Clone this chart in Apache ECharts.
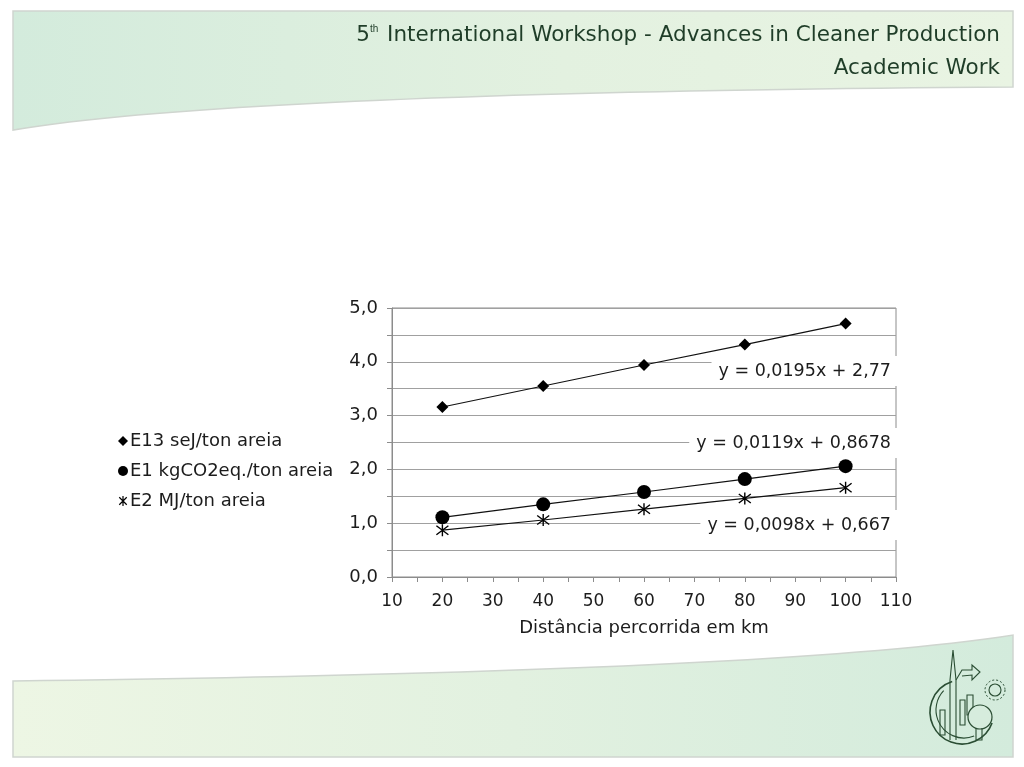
<!DOCTYPE html>
<html>
<head>
<meta charset="utf-8">
<script src="https://cdn.jsdelivr.net/npm/echarts@6/dist/echarts.min.js"></script>
<style>
  html, body { margin: 0; padding: 0; background: #fff; }
  #chart { width: 1024px; height: 767px; }
</style>
</head>
<body>
<div id="chart"></div>
<script>
// distance travelled (km) and indicator values per ton of sand
const distances = [20, 40, 60, 80, 100]
const e13Values = [3.16, 3.55, 3.94, 4.32, 4.71]
const e1Values = [1.11, 1.35, 1.58, 1.82, 2.06]
const e2Values = [0.87, 1.06, 1.26, 1.46, 1.66]
const seriesNames = ['E13 seJ/ton areia', 'E1 kgCO2eq./ton areia', 'E2 MJ/ton areia']
const trendLabels = ['y = 0,0195x + 2,77', 'y = 0,0119x + 0,8678', 'y = 0,0098x + 0,667']

const starIcon = 'path://M0,-10 L0,10 M-7.5,-7.5 L7.5,7.5 M-7.5,7.5 L7.5,-7.5'
const font = 'DejaVu Sans'
const ink = '#1c1c1c'

const chart = echarts.init(document.getElementById('chart'))

const pairs = vals => distances.map((d, i) => [d, vals[i]])

// sample a cubic bezier for the slide's curved bands
const bezier = (p0, p1, p2, p3, n) => {
  const pts = []
  for (let i = 0; i <= n; i++) {
    const t = i / n, u = 1 - t
    pts.push([
      u * u * u * p0[0] + 3 * u * u * t * p1[0] + 3 * u * t * t * p2[0] + t * t * t * p3[0],
      u * u * u * p0[1] + 3 * u * u * t * p1[1] + 3 * u * t * t * p2[1] + t * t * t * p3[1]
    ])
  }
  return pts
}

const headerPts = [[13, 11], [1013, 11]].concat(bezier([1013, 87], [560, 90], [180, 102], [13, 130], 40))
const footerPts = bezier([13, 681], [420, 676], [830, 664], [1013, 635], 40).concat([[1013, 757], [13, 757]])

const makeSeries = (name, vals, symbol, size, extra) => ({
  name: name,
  type: 'line',
  data: pairs(vals),
  symbol: symbol,
  symbolSize: size,
  lineStyle: { color: '#111', width: 1.2 },
  itemStyle: Object.assign({ color: '#000' }, extra || {}),
  emphasis: { disabled: true },
  z: 5
})

const trendText = (text, y) => ({
  type: 'text',
  right: 1024 - 905,
  top: y,
  z: 20,
  style: {
    text: text,
    font: '17.5px "' + font + '"',
    fill: ink,
    backgroundColor: '#fff',
    padding: [6, 14, 6, 7]
  }
})

const logoLine = { stroke: '#2a4d33', lineWidth: 1.1, fill: null }

const option = {
  backgroundColor: '#fff',
  animation: false,
  legend: {
    orient: 'vertical',
    left: 113,
    top: 427,
    itemGap: 12,
    itemWidth: 10,
    itemHeight: 10,
    textStyle: { fontFamily: font, fontSize: 18, color: ink, padding: [0, 0, 0, -3] },
    data: [
      { name: seriesNames[0], icon: 'diamond' },
      { name: seriesNames[1], icon: 'circle' },
      { name: seriesNames[2], icon: starIcon, itemStyle: { color: 'transparent', borderColor: '#000', borderWidth: 1.2 } }
    ]
  },
  grid: {
    left: 392,
    right: 1024 - 896,
    top: 308,
    bottom: 767 - 577,
    show: true,
    borderColor: '#8c8c8c',
    borderWidth: 1,
    backgroundColor: 'transparent'
  },
  xAxis: {
    type: 'value',
    min: 10,
    max: 110,
    interval: 5,
    name: 'Distância percorrida em km',
    nameLocation: 'middle',
    nameGap: 42,
    nameTextStyle: { fontFamily: font, fontSize: 18, color: ink },
    axisLine: { lineStyle: { color: '#8c8c8c' } },
    axisTick: { inside: false, length: 5, lineStyle: { color: '#8c8c8c' } },
    axisLabel: {
      fontFamily: font,
      fontSize: 17,
      color: ink,
      margin: 16,
      formatter: v => (v % 10 === 0 ? String(v) : '')
    },
    splitLine: { show: false }
  },
  yAxis: {
    type: 'value',
    min: 0,
    max: 5,
    interval: 0.5,
    axisLine: { show: true, lineStyle: { color: '#8c8c8c' } },
    axisTick: { show: true, inside: false, length: 5, lineStyle: { color: '#8c8c8c' } },
    axisLabel: {
      fontFamily: font,
      fontSize: 18,
      color: ink,
      margin: 14,
      formatter: v => (Math.abs(v - Math.round(v)) < 1e-9 ? v.toFixed(1).replace('.', ',') : '')
    },
    splitLine: { lineStyle: { color: '#a0a0a0', width: 1 } }
  },
  series: [
    makeSeries(seriesNames[0], e13Values, 'diamond', 12),
    makeSeries(seriesNames[1], e1Values, 'circle', 14),
    makeSeries(seriesNames[2], e2Values, starIcon, 12, { color: 'transparent', borderColor: '#000', borderWidth: 1.4 })
  ],
  graphic: [
    // header band
    {
      type: 'polygon',
      z: -10,
      shape: { points: headerPts },
      style: {
        fill: new echarts.graphic.LinearGradient(0, 0, 1, 0, [
          { offset: 0, color: '#d3ebdc' },
          { offset: 0.55, color: '#e3f1e0' },
          { offset: 1, color: '#e9f4e3' }
        ]),
        stroke: '#cfd5cf',
        lineWidth: 1.5
      }
    },
    {
      type: 'text',
      right: 24,
      top: 24,
      z: 1,
      style: {
        text: '5{sup|th} International Workshop - Advances in Cleaner Production',
        font: '21.5px "' + font + '"',
        fill: '#1f3d28',
        rich: { sup: { fontSize: 10, verticalAlign: 'top', fill: '#1f3d28', padding: [0, 2, 8, 0] } }
      }
    },
    {
      type: 'text',
      right: 24,
      top: 57,
      z: 1,
      style: { text: 'Academic Work', font: '21.5px "' + font + '"', fill: '#1f3d28' }
    },
    // footer band
    {
      type: 'polygon',
      z: -10,
      shape: { points: footerPts },
      style: {
        fill: new echarts.graphic.LinearGradient(0, 0, 1, 0, [
          { offset: 0, color: '#edf6e4' },
          { offset: 0.5, color: '#e2f1e0' },
          { offset: 1, color: '#d3ebdc' }
        ]),
        stroke: '#cfd5cf',
        lineWidth: 1.5
      }
    },
    // logo
    { type: 'arc', z: 1, shape: { cx: 962, cy: 712, r: 32, startAngle: 0.35, endAngle: 4.4 }, style: { stroke: '#2a4d33', lineWidth: 1.6, fill: null } },
    { type: 'arc', z: 1, shape: { cx: 964, cy: 710, r: 28, startAngle: 1.2, endAngle: 3.9 }, style: logoLine },
    { type: 'polyline', z: 1, shape: { points: [[950, 740], [950, 680], [953, 650], [956, 680], [956, 740]] }, style: logoLine },
    { type: 'polyline', z: 1, shape: { points: [[956, 680], [962, 670], [972, 670], [972, 665], [980, 672], [972, 680], [972, 675], [962, 676]] }, style: logoLine },
    { type: 'rect', z: 1, shape: { x: 940, y: 710, width: 5, height: 25 }, style: logoLine },
    { type: 'rect', z: 1, shape: { x: 960, y: 700, width: 5, height: 25 }, style: logoLine },
    { type: 'rect', z: 1, shape: { x: 967, y: 695, width: 6, height: 20 }, style: logoLine },
    { type: 'circle', z: 1, shape: { cx: 995, cy: 690, r: 6 }, style: logoLine },
    { type: 'circle', z: 1, shape: { cx: 995, cy: 690, r: 10 }, style: { stroke: '#2a4d33', lineWidth: 1, fill: null, lineDash: [2, 2] } },
    { type: 'circle', z: 2, shape: { cx: 980, cy: 717, r: 12 }, style: { stroke: '#2a4d33', lineWidth: 1.2, fill: '#d6ecdd' } },
    { type: 'polyline', z: 2, shape: { points: [[976, 728], [976, 740], [982, 740], [982, 728]] }, style: logoLine },
    // trendline equations
    trendText(trendLabels[0], 356),
    trendText(trendLabels[1], 428),
    trendText(trendLabels[2], 510)
  ]
}

chart.setOption(option)
</script>
</body>
</html>
